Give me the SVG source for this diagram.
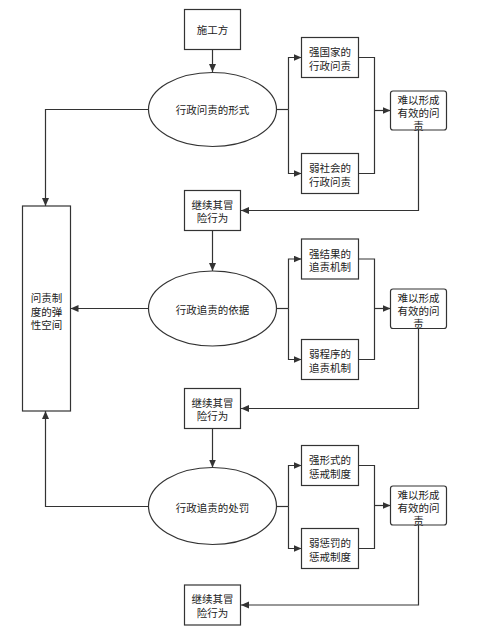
<svg xmlns="http://www.w3.org/2000/svg" width="477" height="638" viewBox="0 0 477 638">
<style>
.n{fill:#fff;stroke:#333;stroke-width:1.2}
.c{fill:none;stroke:#333;stroke-width:1.2}
text{font-family:"Noto Sans CJK SC","Noto Sans",sans-serif;font-size:10.5px;fill:#222;text-anchor:middle;dominant-baseline:central}
</style>
<defs>
<marker id="a" markerUnits="userSpaceOnUse" markerWidth="9" markerHeight="8" refX="8" refY="3.5" orient="auto">
<path d="M0,0 L8,3.5 L0,7 z" fill="#333"/>
</marker>
</defs>
<rect width="477" height="638" fill="#fff"/>
<g id="connectors">
<path class="c" marker-end="url(#a)" d="M212.5,49.5 V72"/>
<path class="c" d="M276.5,109.5 H288.5"/>
<path class="c" marker-end="url(#a)" d="M288.5,109.5 V57.5 H301.5"/>
<path class="c" marker-end="url(#a)" d="M288.5,109.5 V173.5 H301.5"/>
<path class="c" d="M358.5,57.5 H374.5 V173.5 H358.5"/>
<path class="c" marker-end="url(#a)" d="M374.5,110.5 H390.5"/>
<path class="c" marker-end="url(#a)" d="M418.5,130 V210.5 H241"/>
<path class="c" marker-end="url(#a)" d="M148.5,109.5 H45.5 V206"/>
<path class="c" marker-end="url(#a)" d="M212.5,230.5 V271"/>
<path class="c" marker-end="url(#a)" d="M148.5,308.5 H70.5"/>
<path class="c" d="M276.5,308.5 H288.5"/>
<path class="c" marker-end="url(#a)" d="M288.5,308.5 V259 H301.5"/>
<path class="c" marker-end="url(#a)" d="M288.5,308.5 V359.5 H301.5"/>
<path class="c" d="M358.5,259 H374.5 V359.5 H358.5"/>
<path class="c" marker-end="url(#a)" d="M374.5,308.5 H390.5"/>
<path class="c" marker-end="url(#a)" d="M418.5,328.5 V408.5 H241"/>
<path class="c" marker-end="url(#a)" d="M212.5,428.5 V467.5"/>
<path class="c" marker-end="url(#a)" d="M148.5,506.5 H45.5 V411"/>
<path class="c" d="M276.5,506.5 H288.5"/>
<path class="c" marker-end="url(#a)" d="M288.5,506.5 V465.5 H301.5"/>
<path class="c" marker-end="url(#a)" d="M288.5,506.5 V548.5 H301.5"/>
<path class="c" d="M358.5,465.5 H374.5 V548.5 H358.5"/>
<path class="c" marker-end="url(#a)" d="M374.5,505.5 H390.5"/>
<path class="c" marker-end="url(#a)" d="M418.5,525 V605 H241"/>
</g>
<g id="n_sgf"><rect class="n" x="184.5" y="9.5" width="56" height="40"/><text x="212.5" y="29.5">施工方</text></g>
<g id="e1"><ellipse class="n" cx="212.5" cy="109.5" rx="64" ry="37"/><text x="212.5" y="109.5">行政问责的形式</text></g>
<g id="b1a"><rect class="n" x="301.5" y="37.5" width="57" height="40"/><text x="330" y="51.5">强国家的<tspan x="330" dy="13">行政问责</tspan></text></g>
<g id="b1b"><rect class="n" x="301.5" y="153.5" width="57" height="40"/><text x="330" y="167.5">弱社会的<tspan x="330" dy="13">行政问责</tspan></text></g>
<g id="r1"><rect class="n" x="390.5" y="91" width="56" height="39" rx="2.5"/><text x="418.5" y="99">难以形成<tspan x="418.5" dy="13">有效的问</tspan><tspan x="418.5" dy="13">责</tspan></text></g>
<g id="c1"><rect class="n" x="184.5" y="190.5" width="56" height="40"/><text x="212.5" y="204">继续其冒<tspan x="212.5" dy="13">险行为</tspan></text></g>
<g id="tall"><rect class="n" x="22.5" y="206" width="48" height="205"/><text x="46.5" y="297.5">问责制<tspan x="46.5" dy="13">度的弹</tspan><tspan x="46.5" dy="13">性空间</tspan></text></g>
<g id="e2"><ellipse class="n" cx="212.5" cy="308.5" rx="64" ry="37.5"/><text x="212.5" y="309">行政追责的依据</text></g>
<g id="b2a"><rect class="n" x="301.5" y="239" width="57" height="40"/><text x="330" y="253">强结果的<tspan x="330" dy="13">追责机制</tspan></text></g>
<g id="b2b"><rect class="n" x="301.5" y="339.5" width="57" height="40"/><text x="330" y="353.5">弱程序的<tspan x="330" dy="13">追责机制</tspan></text></g>
<g id="r2"><rect class="n" x="390.5" y="289" width="56" height="39.5" rx="2.5"/><text x="418.5" y="297">难以形成<tspan x="418.5" dy="13">有效的问</tspan><tspan x="418.5" dy="13">责</tspan></text></g>
<g id="c2"><rect class="n" x="184.5" y="388.5" width="56" height="40"/><text x="212.5" y="402">继续其冒<tspan x="212.5" dy="13">险行为</tspan></text></g>
<g id="e3"><ellipse class="n" cx="212.5" cy="506" rx="64" ry="38.5"/><text x="212.5" y="507">行政追责的处罚</text></g>
<g id="b3a"><rect class="n" x="301.5" y="445.5" width="57" height="40"/><text x="330" y="459.5">强形式的<tspan x="330" dy="13">惩戒制度</tspan></text></g>
<g id="b3b"><rect class="n" x="301.5" y="528.5" width="57" height="40"/><text x="330" y="542.5">弱惩罚的<tspan x="330" dy="13">惩戒制度</tspan></text></g>
<g id="r3"><rect class="n" x="390.5" y="486" width="56" height="39" rx="2.5"/><text x="418.5" y="494">难以形成<tspan x="418.5" dy="13">有效的问</tspan><tspan x="418.5" dy="13">责</tspan></text></g>
<g id="c3"><rect class="n" x="184.5" y="585" width="56" height="40"/><text x="212.5" y="598.5">继续其冒<tspan x="212.5" dy="13">险行为</tspan></text></g>
</svg>
